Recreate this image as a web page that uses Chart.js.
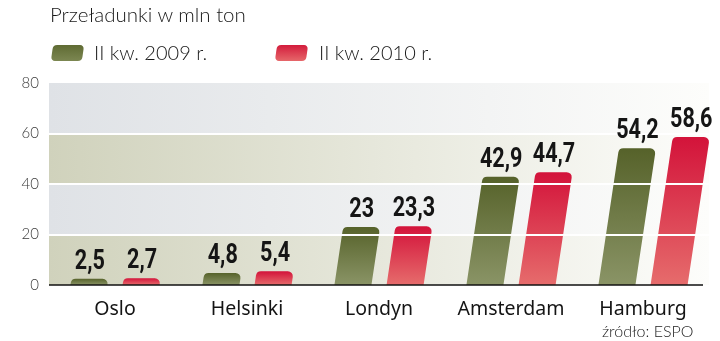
<!DOCTYPE html>
<html lang="pl">
<head>
<meta charset="utf-8">
<title>Przeładunki w mln ton</title>
<script src="https://cdn.jsdelivr.net/npm/chart.js@4.4.1/dist/chart.umd.min.js"></script>
<style>
  html, body { margin: 0; padding: 0; background: #fff; }
  #wrap { position: relative; width: 720px; height: 341px; overflow: hidden; }
  #myChart { position: absolute; left: 0; top: 0; }
  .txt { position: absolute; font-family: "Lato", "Open Sans", sans-serif; color: #181818; white-space: nowrap; }
  #title { left: 50px; top: 2px; font-size: 20.5px; font-weight: 300; }
  .sw { position: absolute; width: 31px; height: 16px; border-radius: 4px; transform: skewX(-8deg); }
  #sw1 { left: 52px; top: 45px; background: linear-gradient(#5f6b33, #7c8752); }
  #sw2 { left: 276px; top: 45px; background: linear-gradient(#d31c3c, #e6676a); }
  .leg { top: 40px; font-size: 20px; font-weight: 300; }
  #leg1 { left: 94px; }
  #leg2 { left: 319px; }
  #source { left: 602px; top: 321px; font-size: 16px; font-weight: 300; color: #222; }
</style>
</head>
<body>
<div id="wrap">
  <canvas id="myChart" width="720" height="341"></canvas>
  <div id="title" class="txt">Przeładunki w mln ton</div>
  <div id="sw1" class="sw"></div>
  <div id="leg1" class="txt leg">II kw. 2009 r.</div>
  <div id="sw2" class="sw"></div>
  <div id="leg2" class="txt leg">II kw. 2010 r.</div>
  <div id="source" class="txt">źródło: ESPO</div>
</div>
<script>
const ports = ['Oslo', 'Helsinki', 'Londyn', 'Amsterdam', 'Hamburg'];
const q2_2009 = [2.5, 4.8, 23, 42.9, 54.2];
const q2_2010 = [2.7, 5.4, 23.3, 44.7, 58.6];
const yTicks = [0, 20, 40, 60, 80];

const SLANT = 0.15; // horizontal lean of a bar per pixel of height
const barColors = [
    ['#56622a', '#8a9466'],
    ['#d3133a', '#e66c6c']
];

function fmt(v) {
    return String(v).replace('.', ',');
}

// striped background, fading out towards the right
const bands = {
    id: 'bands',
    beforeDatasetsDraw(chart) {
        const { ctx, chartArea: a, scales: { y } } = chart;
        for (let i = 0; i < yTicks.length - 1; i++) {
            const top = y.getPixelForValue(yTicks[i + 1]);
            const bot = y.getPixelForValue(yTicks[i]);
            const col = i % 2 === 0 ? '#d0d2bc' : '#dfe2e6';
            const g = ctx.createLinearGradient(a.left, 0, a.right, 0);
            g.addColorStop(0, col);
            g.addColorStop(1, '#fdfdfb');
            ctx.fillStyle = g;
            ctx.fillRect(a.left, top, a.right - a.left, bot - top);
        }
    }
};

// slanted bars with rounded tops, white grid over them, base line and values
const slantBars = {
    id: 'slantBars',
    afterDatasetsDraw(chart) {
        const { ctx, chartArea: a, scales: { y } } = chart;
        ctx.save();
        chart.data.datasets.forEach((ds, di) => {
            const meta = chart.getDatasetMeta(di);
            meta.data.forEach(bar => {
                const h = bar.base - bar.y;
                const s = h * SLANT;
                const x0 = bar.x - bar.width / 2;
                const x1 = bar.x + bar.width / 2;
                const r = Math.min(5, h);
                const g = ctx.createLinearGradient(0, bar.y, 0, bar.base);
                g.addColorStop(0, barColors[di][0]);
                g.addColorStop(1, barColors[di][1]);
                ctx.fillStyle = g;
                ctx.beginPath();
                ctx.moveTo(x0, bar.base);
                ctx.arcTo(x0 + s, bar.y, x1 + s, bar.y, r);
                ctx.arcTo(x1 + s, bar.y, x1, bar.base, r);
                ctx.lineTo(x1, bar.base);
                ctx.closePath();
                ctx.fill();
            });
        });

        ctx.strokeStyle = '#ffffff';
        ctx.lineWidth = 2;
        [20, 40, 60].forEach(v => {
            const py = Math.round(y.getPixelForValue(v));
            ctx.beginPath();
            ctx.moveTo(a.left, py);
            ctx.lineTo(a.right, py);
            ctx.stroke();
        });

        ctx.strokeStyle = '#111';
        ctx.lineWidth = 1.5;
        const py0 = y.getPixelForValue(0);
        ctx.beginPath();
        ctx.moveTo(a.left, py0);
        ctx.lineTo(a.right - 6, py0);
        ctx.stroke();

        // condensed bold figures: a squeezed Roboto Bold
        ctx.fillStyle = '#151515';
        ctx.font = 'bold 27px Roboto, "DejaVu Sans", sans-serif';
        ctx.textAlign = 'center';
        ctx.textBaseline = 'alphabetic';
        chart.data.datasets.forEach((ds, di) => {
            const meta = chart.getDatasetMeta(di);
            meta.data.forEach((bar, i) => {
                const s = (bar.base - bar.y) * SLANT;
                ctx.save();
                ctx.translate(bar.x + s, bar.y - 10);
                ctx.scale(0.8, 1);
                ctx.fillText(fmt(ds.data[i]), 0, 0);
                ctx.restore();
            });
        });
        ctx.restore();
    }
};

const ctx = document.getElementById('myChart').getContext('2d');
const chart = new Chart(ctx, {
    type: 'bar',
    data: {
        labels: ports,
        datasets: [
            { label: 'II kw. 2009 r.', data: q2_2009, backgroundColor: 'rgba(0,0,0,0)', borderWidth: 0 },
            { label: 'II kw. 2010 r.', data: q2_2010, backgroundColor: 'rgba(0,0,0,0)', borderWidth: 0 }
        ]
    },
    options: {
        responsive: false,
        animation: false,
        devicePixelRatio: 1,
        categoryPercentage: 0.79,
        barPercentage: 0.71,
        layout: { padding: { top: 83, right: 11, left: 0, bottom: 0 } },
        plugins: {
            legend: { display: false },
            title: { display: false },
            tooltip: { enabled: false }
        },
        scales: {
            x: {
                grid: { display: false, drawTicks: false },
                border: { display: false },
                ticks: {
                    padding: 13,
                    color: '#141414',
                    font: { family: '"Noto Sans", sans-serif', size: 19.5 }
                },
                afterFit(scale) { scale.height = 56; }
            },
            y: {
                min: 0,
                max: 80,
                grid: { display: false, drawTicks: false },
                border: { display: false },
                ticks: {
                    stepSize: 20,
                    padding: 10,
                    color: '#3a3a3a',
                    font: { family: '"Lato", "Open Sans", sans-serif', size: 15, weight: '300' }
                },
                afterFit(scale) { scale.width = 49; }
            }
        }
    },
    plugins: [bands, slantBars]
});
</script>
</body>
</html>
